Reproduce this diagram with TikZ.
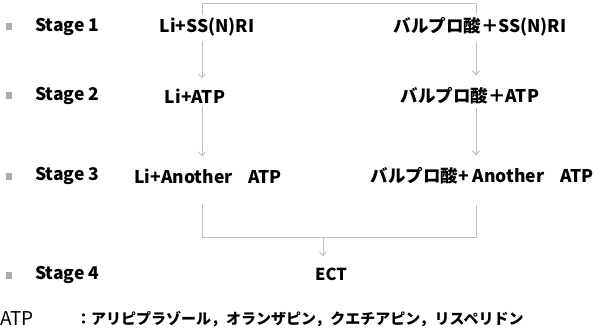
\documentclass[tikz,border=0pt]{standalone}
\usepackage{fontspec}
\setmainfont{Noto Sans CJK JP}
\usetikzlibrary{arrows.meta,calc}
\begin{document}
\begin{tikzpicture}[x=1pt,y=-1pt,
  lbl/.style={font=\bfseries\fontsize{17.5}{17.5}\selectfont, inner sep=0pt, anchor=west},
  txt/.style={font=\bfseries\fontsize{17.5}{17.5}\selectfont, inner sep=0pt},
  bul/.style={fill=gray!65, minimum width=6pt, minimum height=7pt, inner sep=0pt},
  conn/.style={draw=gray!50, line width=0.9pt},
  arr/.style={conn, -{Straight Barb[length=4pt,width=7pt]}}]
\useasboundingbox (0,0) rectangle (599,334);
% bullets and stage labels
\node[bul] (b1) at (9,27) {};
\node[bul] (b2) at (9,96) {};
\node[bul] (b3) at (9,176) {};
\node[bul] (b4) at (9,275) {};
\node[lbl] (s1) at (35,27) {Stage 1};
\node[lbl] (s2) at (35,96) {Stage 2};
\node[lbl] (s3) at (35,176) {Stage 3};
\node[lbl] (s4) at (35,275) {Stage 4};
% texts
\node[txt] (L1) at (207,27) {Li+SS(N)RI};
\node[txt] (L2) at (195,96) {Li+ATP};
\node[txt] (L3) at (208,176) {Li+Another\hspace{0.9em}ATP};
\node[txt] (R1) at (480,27) {バルプロ酸＋SS(N)RI};
\node[txt] (R2) at (470,96) {バルプロ酸＋ATP};
\node[txt] (R3) at (482,176) {バルプロ酸+ Another\hspace{0.9em}ATP};
\node[txt, font=\bfseries\fontsize{16.5}{16.5}\selectfont] (E) at (331,274) {ECT};
% legend
\node[anchor=west, inner sep=0pt, font=\fontsize{19}{19}\selectfont] (atp) at (0,319) {ATP};
\node[anchor=west, inner sep=0pt, font=\bfseries\fontsize{15}{15}\selectfont] (list) at (76,319) {：アリピプラゾール，オランザピン，クエチアピン，リスペリドン};
% connectors
\coordinate (tl) at (202,3);
\coordinate (tr) at (476,3);
\coordinate (bl) at (202,237);
\coordinate (br) at (476,237);
\coordinate (em) at (323,237);
\draw[conn] ($(L1.north -| tl)+(0,-3)$) -- (tl) -- (tr) -- ($(R1.north -| tr)+(0,-3)$);
\draw[arr, shorten <=5pt, shorten >=10pt] (L1.south -| tl) -- (L2.north -| tl);
\draw[arr, shorten <=5pt, shorten >=12pt] (R1.south -| tr) -- (R2.north -| tr);
\draw[arr, shorten <=3pt, shorten >=12pt] (L2.south -| tl) -- (L3.north -| tl);
\draw[arr, shorten <=3pt, shorten >=12pt] (R2.south -| tr) -- (R3.north -| tr);
\draw[conn] ($(L3.south -| bl)+(0,20)$) -- (bl) -- (br) -- ($(R3.south -| br)+(0,20)$);
\draw[arr, shorten >=11pt] (em) -- (em |- E.north);
\end{tikzpicture}
\end{document}
